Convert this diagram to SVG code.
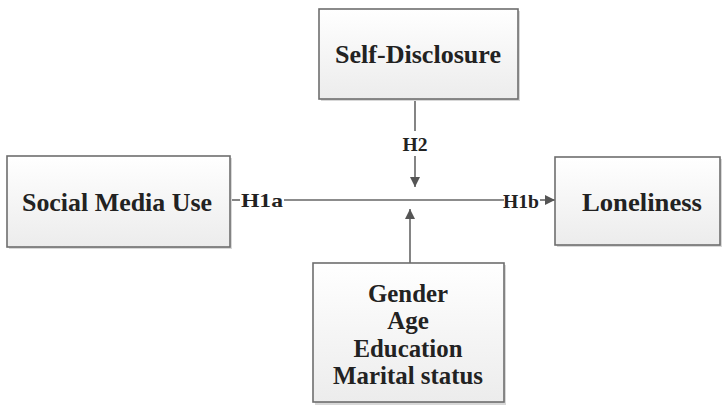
<svg xmlns="http://www.w3.org/2000/svg" width="722" height="405" viewBox="0 0 722 405">
<style>
.box{fill:url(#g);stroke:#6e6e6e;stroke-width:1.6}
.sh{fill:#d8d8d8}
.t{font-family:"Liberation Serif","Times New Roman",serif;font-weight:bold;font-size:25px;fill:#222;text-anchor:middle}
.h{font-family:"Liberation Serif","Times New Roman",serif;font-weight:bold;font-size:19px;fill:#222;text-anchor:middle}
.ln{stroke:#666;stroke-width:1.6;fill:none}
</style>
<defs>
<linearGradient id="g" x1="0" y1="0" x2="0" y2="1">
<stop offset="0" stop-color="#ffffff"/>
<stop offset="1" stop-color="#ececec"/>
</linearGradient>
<marker id="a" viewBox="0 0 10 10" refX="10" refY="5" markerWidth="10" markerHeight="10" markerUnits="userSpaceOnUse" orient="auto">
<path d="M0,0 L10,5 L0,10 z" fill="#555"/>
</marker>
</defs>
<rect width="722" height="405" fill="#fff"/>
<g id="connectors">
<line class="ln" x1="230" y1="200" x2="240" y2="200"/>
<line class="ln" x1="284" y1="200" x2="504" y2="200"/>
<line class="ln" x1="540" y1="200" x2="555" y2="200" marker-end="url(#a)"/>
<line class="ln" x1="415" y1="99" x2="415" y2="131"/>
<line class="ln" x1="415" y1="156" x2="415" y2="187" marker-end="url(#a)"/>
<line class="ln" x1="410" y1="263" x2="410" y2="209" marker-end="url(#a)"/>
<text class="h" x="262" y="207" textLength="42" lengthAdjust="spacingAndGlyphs">H1a</text>
<text class="h" x="521" y="208" textLength="36" lengthAdjust="spacingAndGlyphs">H1b</text>
<text class="h" x="415" y="151" textLength="25" lengthAdjust="spacingAndGlyphs">H2</text>
</g>
<g id="self-disclosure">
<rect class="sh" x="321" y="11" width="199" height="90"/>
<rect class="box" x="319" y="9" width="199" height="90"/>
<text class="t" x="418" y="63" textLength="166" lengthAdjust="spacingAndGlyphs">Self-Disclosure</text>
</g>
<g id="social-media-use">
<rect class="sh" x="9" y="158" width="223" height="91"/>
<rect class="box" x="7" y="156" width="223" height="91"/>
<text class="t" x="117" y="211" textLength="190" lengthAdjust="spacingAndGlyphs">Social Media Use</text>
</g>
<g id="loneliness">
<rect class="sh" x="557" y="159" width="167" height="88"/>
<rect class="box" x="555" y="157" width="165" height="88"/>
<text class="t" x="642" y="211" textLength="120" lengthAdjust="spacingAndGlyphs">Loneliness</text>
</g>
<g id="demographics">
<rect class="sh" x="315" y="265" width="191" height="140"/>
<rect class="box" x="313" y="263" width="191" height="139"/>
<text class="t" x="408" y="302" textLength="80" lengthAdjust="spacingAndGlyphs">Gender</text>
<text class="t" x="408" y="329">Age</text>
<text class="t" x="408" y="357" textLength="109" lengthAdjust="spacingAndGlyphs">Education</text>
<text class="t" x="408" y="384" textLength="150" lengthAdjust="spacingAndGlyphs">Marital status</text>
</g>
</svg>
